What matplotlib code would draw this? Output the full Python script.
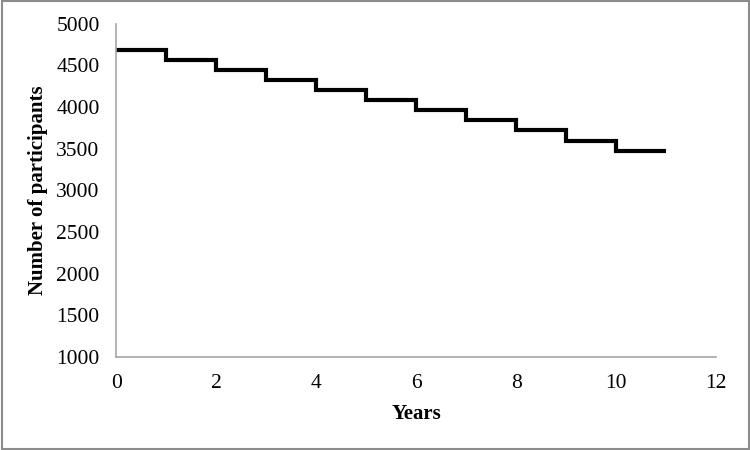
import numpy as np
import matplotlib.pyplot as plt
from matplotlib.patches import Rectangle

plt.rcParams['font.family'] = ['Liberation Serif', 'DejaVu Serif']

# participants remaining at the start of each year
years = np.arange(0, 12)
participants = [4690, 4570, 4450, 4330, 4210, 4090, 3965, 3845, 3720, 3595, 3470]

fig = plt.figure(figsize=(7.5, 4.5), dpi=100)
ax = fig.add_axes([0.155, 0.207, 0.80, 0.74])

ax.stairs(participants, years, color='black', linewidth=3, baseline=None)

ax.set_xlim(0, 12)
ax.set_ylim(1000, 5000)
ax.set_xticks(range(0, 13, 2))
ax.set_yticks(range(1000, 5001, 500))
ax.tick_params(length=0, labelsize=15.5)
ax.tick_params(axis='y', pad=12)
ax.tick_params(axis='x', pad=12)

for s in ['top', 'right']:
    ax.spines[s].set_visible(False)
for s in ['left', 'bottom']:
    ax.spines[s].set_color('#a6a6a6')
    ax.spines[s].set_linewidth(1.2)

ax.set_xlabel('Years', fontsize=15, fontweight='bold', labelpad=8)
ax.set_ylabel('Number of participants', fontsize=15, fontweight='bold', labelpad=6)

# frame around the whole picture
fig.patches.append(Rectangle((0.002, 0.003), 0.996, 0.994, transform=fig.transFigure,
                             fill=False, edgecolor='#8c8c8c', linewidth=1.5))

fig.savefig('out.png', dpi=100)
